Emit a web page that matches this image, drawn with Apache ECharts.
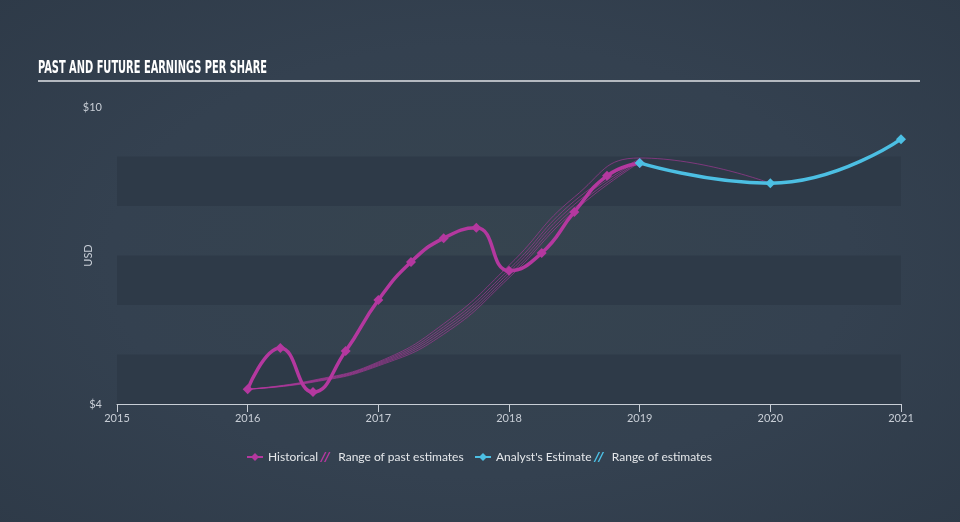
<!DOCTYPE html>
<html><head><meta charset="utf-8">
<script src="https://cdn.jsdelivr.net/npm/echarts@6/dist/echarts.min.js"></script>
<style>html,body{margin:0;padding:0;background:#333f4d;}
#c{width:960px;height:522px;background:radial-gradient(ellipse 70% 75% at 50% 50%, #36444f 0%, #344150 55%, #2e3a48 100%);}</style>
</head><body><div id="c"></div>
<script>
// ---- data ----
const histYears = [2016, 2016.25, 2016.5, 2016.75, 2017, 2017.25, 2017.5, 2017.75, 2018, 2018.25, 2018.5, 2018.75, 2019];
const histEPS   = [4.30, 5.13, 4.24, 5.07, 6.10, 6.87, 7.35, 7.56, 6.69, 7.05, 7.88, 8.61, 8.87];
const estYears  = [2019, 2020, 2021];
const estEPS    = [8.87, 8.46, 9.35];
const pastRangeYears = [2016, 2016.5, 2017, 2017.5, 2018, 2018.5, 2019, 2020];
const pastRange1 = [4.30, 4.48, 4.85, 5.62, 6.80, 8.18, 8.97, 8.46];
const pastRange2 = [4.30, 4.47, 4.83, 5.56, 6.72, 8.10, 8.95];
const pastRange3 = [4.30, 4.46, 4.81, 5.51, 6.66, 8.03, 8.92];
const pastRange4 = [4.30, 4.45, 4.79, 5.46, 6.60, 7.96, 8.90];
const pastRange5 = [4.30, 4.44, 4.77, 5.41, 6.55, 7.90, 8.88];
const xTicks = [2015, 2016, 2017, 2018, 2019, 2020, 2021];
const yLabels = {4: '$4', 10: '$10'};
const titleText = 'PAST AND FUTURE EARNINGS PER SHARE';

const MAG = '#b4389f', CYAN = '#4cbfe3';
const pair = (xs, ys) => ys.map((v, i) => [xs[i], v]);
const hatch = 'path://M0,10 L5,0 L6.5,0 L1.5,10 Z M4,10 L9,0 L10.5,0 L5.5,10 Z';

// fit title width
const titleFont = 'bold 18px "DejaVu Sans Condensed", "DejaVu Sans", sans-serif';
const cv = document.createElement('canvas').getContext('2d');
cv.font = titleFont;
const titleScale = 229 / cv.measureText(titleText).width;

const rangeSeries = [pastRange1, pastRange2, pastRange3, pastRange4, pastRange5].map(arr => ({
  name: 'Range of past estimates', type: 'line', smooth: true, symbol: 'none',
  data: pair(pastRangeYears, arr),
  lineStyle: {color: MAG, width: 0.8, opacity: 0.75}, itemStyle: {color: MAG}, z: 1
}));

const legendText = {color: '#e4e7ea', fontFamily: 'Lato', fontSize: 12};
const chart = echarts.init(document.getElementById('c'));
chart.setOption({
  backgroundColor: 'transparent',
  animation: false,
  graphic: [
    {type: 'text', x: 38, y: 68, scaleX: titleScale, originX: 0,
     style: {text: titleText, font: titleFont, fill: '#ffffff', verticalAlign: 'middle', align: 'left'}},
    {type: 'line', shape: {x1: 38, y1: 81, x2: 920, y2: 81}, style: {stroke: '#b4b9c0', lineWidth: 2}}
  ],
  grid: {left: 117, right: 59, top: 107, bottom: 118},
  legend: [
    {left: 246, top: 451, padding: 0, itemGap: 2, itemWidth: 16, itemHeight: 10, textStyle: legendText,
     data: [{name: 'Historical'},
            {name: 'Range of past estimates', icon: hatch, itemStyle: {color: MAG}}]},
    {left: 474, top: 451, padding: 0, itemGap: 2, itemWidth: 16, itemHeight: 10, textStyle: legendText,
     data: [{name: "Analyst's Estimate"},
            {name: 'Range of estimates', icon: hatch, itemStyle: {color: CYAN}}]}
  ],
  xAxis: {
    type: 'value', min: xTicks[0], max: xTicks[xTicks.length - 1], interval: 1,
    axisLine: {lineStyle: {color: '#c8ced6', width: 1}},
    axisTick: {show: true, length: 8, lineStyle: {color: '#c8ced6'}},
    axisLabel: {color: '#c8ced6', fontSize: 11, fontFamily: 'Lato', margin: 9, formatter: v => String(v)},
    splitLine: {show: false}
  },
  yAxis: {
    type: 'value', min: 4, max: 10, interval: 1,
    name: 'USD', nameLocation: 'middle', nameGap: 23, nameRotate: 90, nameMoveOverlap: false,
    nameTextStyle: {color: '#c8ced6', fontSize: 11, fontFamily: 'Lato'},
    axisLine: {show: false}, axisTick: {show: false},
    axisLabel: {color: '#c8ced6', fontSize: 11, fontFamily: 'Lato', margin: 15,
      formatter: v => yLabels[v] || ''},
    splitLine: {show: false},
    splitArea: {show: true, areaStyle: {color: ['#2e3a48', 'rgba(0,0,0,0)']}}
  },
  series: [
    ...rangeSeries,
    {name: 'Range of estimates', type: 'line', data: [], itemStyle: {color: CYAN}},
    {
      name: 'Historical', type: 'line', smooth: true, symbol: 'diamond', symbolSize: 10,
      data: pair(histYears, histEPS),
      lineStyle: {color: MAG, width: 3.5}, itemStyle: {color: MAG}, z: 3
    },
    {
      name: "Analyst's Estimate", type: 'line', smooth: true, symbol: 'diamond', symbolSize: 10,
      data: pair(estYears, estEPS),
      lineStyle: {color: CYAN, width: 3.5}, itemStyle: {color: CYAN}, z: 4
    }
  ]
});
</script></body></html>
